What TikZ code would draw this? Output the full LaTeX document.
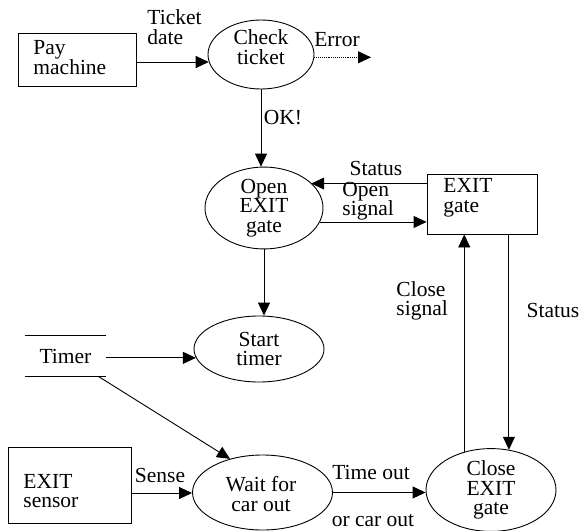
\documentclass[tikz,border=0pt]{standalone}
\usepackage{fontspec}
\setmainfont{Liberation Serif}
\usetikzlibrary{arrows.meta,shapes.geometric}
\begin{document}
\begin{tikzpicture}[x=1pt,y=-1pt,
  every node/.style={font=\fontsize{21.5}{19.5}\selectfont},
  txt/.style={inner sep=0pt},
  box/.style={draw,rectangle,line width=0.9pt,inner sep=0pt},
  proc/.style={draw,ellipse,line width=0.9pt,inner sep=0pt,align=center},
  arr/.style={line width=0.9pt,-{Triangle[length=13pt,width=12pt]}},
  every path/.style={line width=0.9pt}]
\useasboundingbox (0,0) rectangle (582,531);
% boxes
\node[box,minimum width=118pt,minimum height=53pt] (pay) at (77,59.5) {};
\node[txt,anchor=west,align=left] (paytxt) at (33,57.5) {Pay\\machine};
\node[box,minimum width=110pt,minimum height=60pt] (gate) at (482,204) {};
\node[txt,anchor=west,align=left] (gatetxt) at (443,198) {EXIT\\gate};
\node[box,minimum width=123pt,minimum height=76pt] (sensor) at (69.5,485) {};
\node[txt,anchor=west,align=left] (sensortxt) at (23,491) {EXIT\\sensor};
% store
\node[txt,minimum width=81pt,minimum height=40pt] (timer) at (65.5,356) {Timer};
\draw (timer.north west) -- (timer.north east);
\draw (timer.south west) -- (timer.south east);
% processes
\node[proc,minimum width=106pt,minimum height=69pt] (check) at (261,54.5) {};
\node[txt,align=center] (checktxt) at (261,47) {Check\\ticket};
\node[proc,minimum width=118pt,minimum height=74pt] (open) at (264,208) {Open\\EXIT\\gate};
\node[proc,minimum width=130pt,minimum height=66pt] (start) at (259,349) {Start\\timer};
\node[proc,minimum width=140pt,minimum height=75pt] (wait) at (262.5,492.5) {};
\node[txt,align=center] (waittxt) at (261,494) {Wait for\\car out};
\node[proc,minimum width=130pt,minimum height=80pt] (close) at (491,490) {Close\\EXIT\\gate};
\coordinate (errend) at (371,57);
% connectors
\draw[arr] ([yshift=-2.5pt]pay.east) -- ([yshift=-2.5pt]pay.east -| check.188);
\draw[arr,densely dotted] (check.-3) -- (check.-3 -| errend);
\draw[arr] (check.south) -- (check.south |- open.north);
\draw[arr] ([yshift=-10pt]gate.north west) -- ([yshift=-10pt]gate.north west -| open.28);
\draw[arr] (open.-14) -- (open.-14 -| gate.west);
\draw[arr] (open.south) -- (open.south |- start.north);
\draw[arr] (timer.east |- start.188) -- (start.188);
\draw[arr] ([xshift=-8pt]timer.south east) -- (wait.134);
\draw[arr] ([yshift=-8pt]sensor.east) -- ([yshift=-8pt]sensor.east -| wait.west);
\draw[arr] (wait.east) -- (wait.east -| close.west);
\draw[arr] (close.125) -- (close.125 |- gate.south);
\draw[arr] (close.66 |- gate.south) -- (close.66);
% labels
\node[txt,anchor=west,align=left] (lticket) at (147,27) {Ticket\\date};
\node[txt] (lerror) at (337,40) {Error};
\node[txt] (lok) at (283,118) {OK!};
\node[txt] (lstatus1) at (376,168) {Status};
\node[txt,anchor=west,align=left] (lopen) at (342,201) {Open\\signal};
\node[txt,anchor=west,align=left] (lclose) at (396,301) {Close\\signal};
\node[txt] (lstatus2) at (553,310) {Status};
\node[txt] (lsense) at (160,475) {Sense};
\node[txt] (ltime) at (371,472) {Time out};
\node[txt] (lcar) at (373,521) {or car out};
\end{tikzpicture}
\end{document}
